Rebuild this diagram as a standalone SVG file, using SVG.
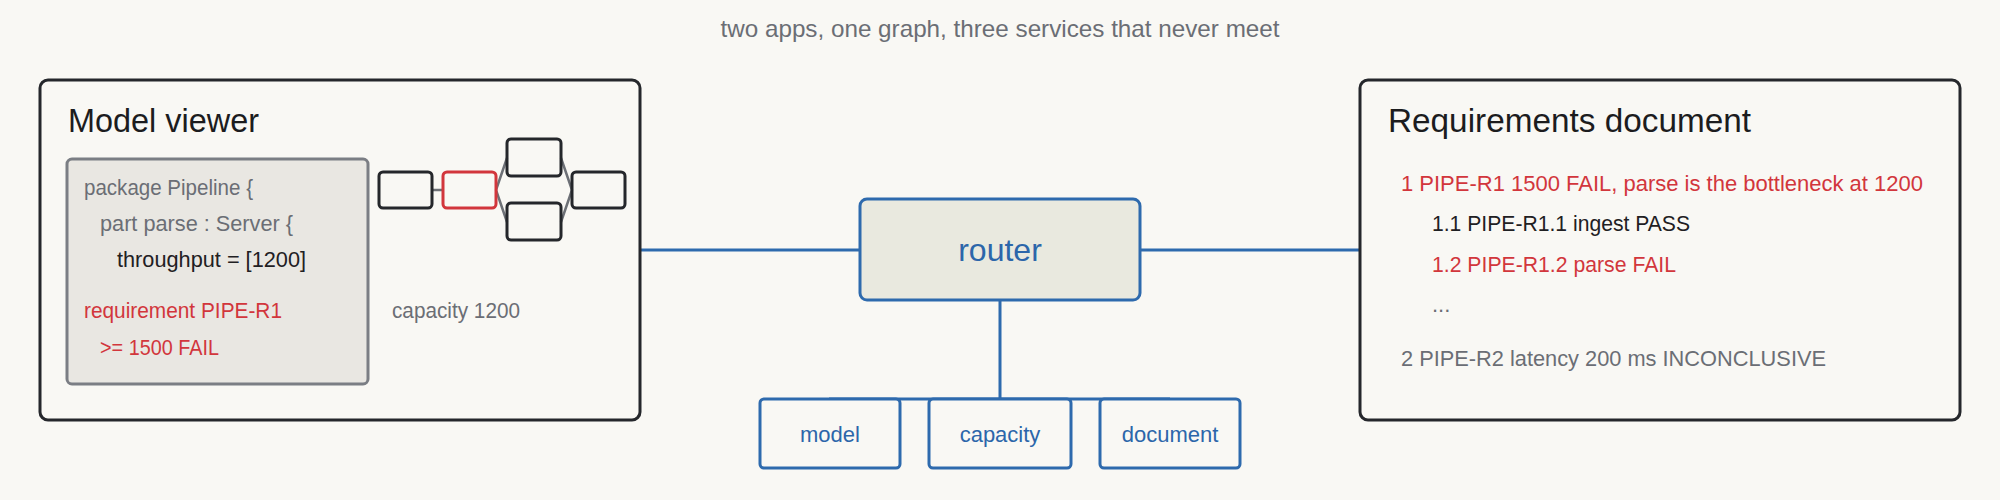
<svg xmlns="http://www.w3.org/2000/svg" width="2000" height="500" viewBox="0 0 2000 500">
<style>
text{font-family:"Liberation Sans",Arial,sans-serif}
.panel{fill:#f9f8f4;stroke:#25272b;stroke-width:3}
.h{font-size:33px;fill:#1c1c1e}
.t{font-size:22px}
.gray{fill:#6b6e75}
.red{fill:#d2363c}
.blk{fill:#1f2023}
.blue{fill:#2c66aa}
.mini{fill:none;stroke:#25272b;stroke-width:3}
.minir{fill:none;stroke:#d2363c;stroke-width:3}
.ml{fill:none;stroke:#6d7076;stroke-width:2.5}
.conn{fill:none;stroke:#2e6aad;stroke-width:3}
.svc{fill:#f9f8f4;stroke:#2e6aad;stroke-width:3}
</style>
<rect width="2000" height="500" fill="#f9f8f4"/>
<text x="1000" y="37" text-anchor="middle" font-size="24" class="gray" textLength="559" lengthAdjust="spacingAndGlyphs">two apps, one graph, three services that never meet</text>
<g id="connectors">
<path class="conn" d="M640,250 H860"/>
<path class="conn" d="M1140,250 H1360"/>
<path class="conn" d="M1000,300 V399 H829"/>
<path class="conn" d="M1000,399 H1170"/>
</g>
<g id="model-viewer">
<rect class="panel" x="40" y="80" width="600" height="340" rx="8"/>
<text class="h" x="68" y="132" textLength="191" lengthAdjust="spacingAndGlyphs">Model viewer</text>
<rect x="67" y="159" width="301" height="225" rx="5" fill="#e9e7e2" stroke="#7b7e84" stroke-width="3"/>
<text class="t gray" x="84" y="195" textLength="169" lengthAdjust="spacingAndGlyphs">package Pipeline {</text>
<text class="t gray" x="100" y="231" textLength="193" lengthAdjust="spacingAndGlyphs">part parse : Server {</text>
<text class="t blk" x="117" y="267" textLength="189" lengthAdjust="spacingAndGlyphs">throughput = [1200]</text>
<text class="t red" x="84" y="318" textLength="198" lengthAdjust="spacingAndGlyphs">requirement PIPE-R1</text>
<text class="t red" x="100" y="355" textLength="119" lengthAdjust="spacingAndGlyphs">&gt;= 1500 FAIL</text>
<g id="mini-graph">
<path class="ml" d="M432,190 H443 M496,190 L507,158 M496,190 L507,222 M561,158 L572,190 M561,222 L572,190"/>
<rect class="mini" x="379" y="172" width="53" height="36" rx="4"/>
<rect class="minir" x="443" y="172" width="53" height="36" rx="4"/>
<rect class="mini" x="507" y="139" width="54" height="37" rx="4"/>
<rect class="mini" x="507" y="203" width="54" height="37" rx="4"/>
<rect class="mini" x="572" y="172" width="53" height="36" rx="4"/>
</g>
<text class="t gray" x="392" y="318" textLength="128" lengthAdjust="spacingAndGlyphs">capacity 1200</text>
</g>
<g id="router">
<rect x="860" y="199" width="280" height="101" rx="7" fill="#e9e9df" stroke="#2e6aad" stroke-width="3"/>
<text x="1000" y="261" text-anchor="middle" font-size="32" class="blue">router</text>
</g>
<g id="svc-model">
<rect class="svc" x="760" y="399" width="140" height="69" rx="4"/>
<text class="t blue" x="830" y="442" text-anchor="middle">model</text>
</g>
<g id="svc-capacity">
<rect class="svc" x="929" y="399" width="142" height="69" rx="4"/>
<text class="t blue" x="1000" y="442" text-anchor="middle">capacity</text>
</g>
<g id="svc-document">
<rect class="svc" x="1100" y="399" width="140" height="69" rx="4"/>
<text class="t blue" x="1170" y="442" text-anchor="middle">document</text>
</g>
<g id="requirements-document">
<rect class="panel" x="1360" y="80" width="600" height="340" rx="8"/>
<text class="h" x="1388" y="132" textLength="363" lengthAdjust="spacingAndGlyphs">Requirements document</text>
<text class="t red" x="1401" y="191" textLength="522" lengthAdjust="spacingAndGlyphs">1 PIPE-R1 1500 FAIL, parse is the bottleneck at 1200</text>
<text class="t blk" x="1432" y="231" textLength="258" lengthAdjust="spacingAndGlyphs">1.1 PIPE-R1.1 ingest PASS</text>
<text class="t red" x="1432" y="272" textLength="244" lengthAdjust="spacingAndGlyphs">1.2 PIPE-R1.2 parse FAIL</text>
<text class="t gray" x="1432" y="312">...</text>
<text class="t gray" x="1401" y="366" textLength="425" lengthAdjust="spacingAndGlyphs">2 PIPE-R2 latency 200 ms INCONCLUSIVE</text>
</g>
</svg>
